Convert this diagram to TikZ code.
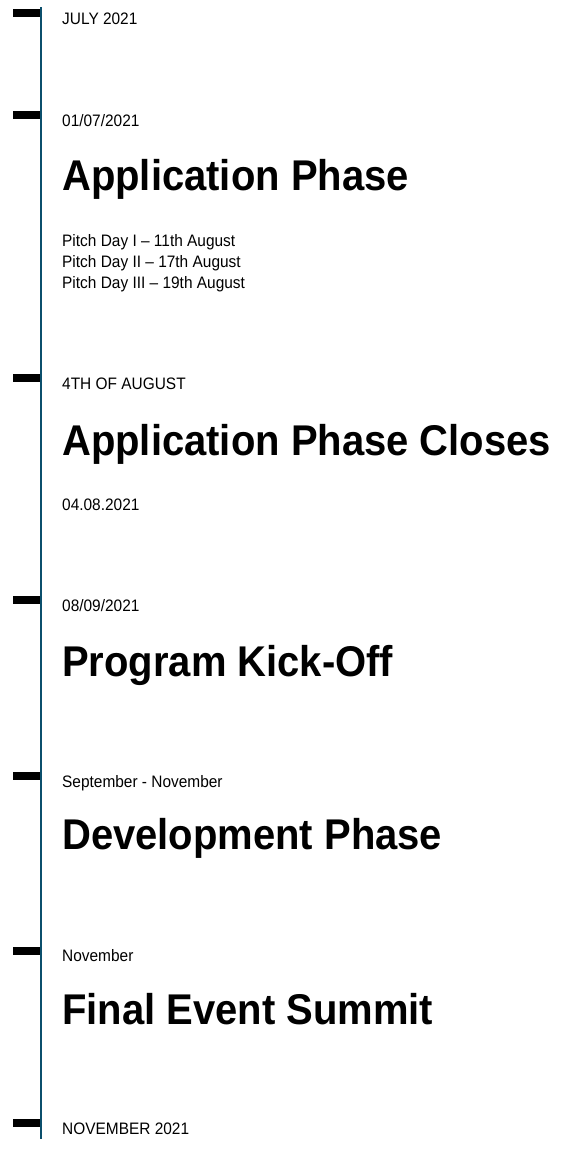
\documentclass[tikz,border=0pt]{standalone}
\usepackage{fontspec}
\setmainfont{Liberation Sans}[FakeStretch=0.93]
\definecolor{axis}{HTML}{0B4F6C}
\begin{document}
\begin{tikzpicture}[x=1pt,y=1pt,
  tickmark/.style={fill=black,inner sep=0pt,minimum width=27pt,minimum height=8pt,draw=none},
  datelbl/.style={anchor=base west,inner sep=0pt,font=\fontsize{16.6}{16.6}\selectfont},
  headlbl/.style={anchor=base west,inner sep=0pt,font=\fontsize{43}{43}\selectfont\bfseries},
  axisline/.style={draw=axis,line width=2pt}]
\useasboundingbox (0,0) rectangle (564,-1156);
\coordinate (top) at (41,-7.5);
\coordinate (bot) at (41,-1139);
\draw[axisline] (top) -- (bot);
% ticks
\node[tickmark] (t1) at (26.5,-13) {};
\node[tickmark] (t2) at (26.5,-114.5) {};
\node[tickmark] (t3) at (26.5,-378) {};
\node[tickmark] (t4) at (26.5,-599.5) {};
\node[tickmark] (t5) at (26.5,-775.5) {};
\node[tickmark] (t6) at (26.5,-950.5) {};
\node[tickmark] (t7) at (26.5,-1123) {};
% texts
\node[datelbl] (d1) at (62,-24.5) {JULY 2021};
\node[datelbl] (d2) at (62,-126) {01/07/2021};
\node[headlbl] (h1) at (62,-190) {Application Phase};
\node[datelbl] (p1) at (62,-246.5) {Pitch Day I – 11th August};
\node[datelbl] (p2) at (62,-267.5) {Pitch Day II – 17th August};
\node[datelbl] (p3) at (62,-288.5) {Pitch Day III – 19th August};
\node[datelbl] (d3) at (62,-389.5) {4TH OF AUGUST};
\node[headlbl] (h2) at (62,-455) {Application Phase Closes};
\node[datelbl] (s2) at (62,-510) {04.08.2021};
\node[datelbl] (d4) at (62,-611) {08/09/2021};
\node[headlbl] (h3) at (62,-676) {Program Kick-Off};
\node[datelbl] (d5) at (62,-787) {September - November};
\node[headlbl] (h4) at (62,-849) {Development Phase};
\node[datelbl] (d6) at (62,-961) {November};
\node[headlbl] (h5) at (62,-1024) {Final Event Summit};
\node[datelbl] (d7) at (62,-1134.5) {NOVEMBER 2021};
\end{tikzpicture}
\end{document}
